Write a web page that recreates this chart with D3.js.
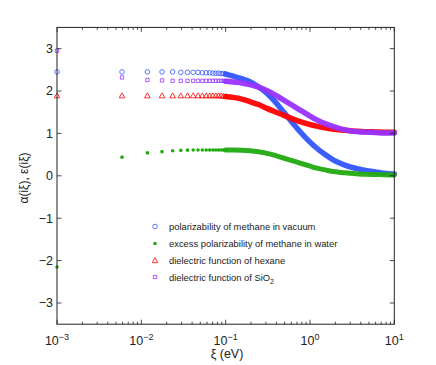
<!DOCTYPE html>
<html><head><meta charset="utf-8">
<script src="https://cdn.jsdelivr.net/npm/d3@7"></script>
<style>body{margin:0;background:#fff}text{font-family:"Liberation Sans",Arial,sans-serif;fill:#222}</style>
</head><body><svg id="c" width="436" height="365"></svg>
<script>
const xi = [0.001,0.0059,0.0118,0.0176,0.0235,0.0294,0.0353,0.0412,0.0470,0.0529,0.0588,0.0647,0.0706,0.0764,0.0823,0.0882,0.0941,0.1,
  0.123,0.155,0.194,0.245,0.308,0.385,0.484,0.61,0.764,0.96,1.205,1.51,1.9,2.39,2.99,3.76,4.72,6.0,7.5,10];
const vacuum = [2.45,2.45,2.45,2.45,2.45,2.44,2.44,2.44,2.44,2.43,2.43,2.43,2.42,2.42,2.42,2.41,2.41,2.40,
  2.35,2.29,2.22,2.10,1.95,1.75,1.51,1.27,1.04,0.83,0.65,0.50,0.37,0.28,0.21,0.16,0.12,0.09,0.06,0.04];
const water = [-2.15,0.44,0.54,0.57,0.59,0.60,0.605,0.61,0.61,0.61,0.61,0.61,0.61,0.61,0.61,0.61,0.61,0.61,
  0.61,0.605,0.59,0.565,0.53,0.48,0.42,0.36,0.30,0.24,0.18,0.14,0.10,0.08,0.06,0.045,0.035,0.03,0.025,0.02];
const hexane = [1.89,1.89,1.89,1.89,1.89,1.89,1.89,1.89,1.89,1.89,1.89,1.89,1.89,1.89,1.89,1.89,1.88,1.87,
  1.85,1.81,1.75,1.68,1.59,1.51,1.43,1.35,1.28,1.22,1.17,1.13,1.10,1.08,1.06,1.05,1.04,1.035,1.03,1.03];
const sio2 = [2.95,2.32,2.26,2.25,2.24,2.24,2.24,2.24,2.24,2.24,2.24,2.24,2.24,2.24,2.24,2.24,2.24,2.23,
  2.21,2.19,2.15,2.09,2.01,1.91,1.79,1.67,1.55,1.43,1.32,1.23,1.16,1.10,1.06,1.04,1.03,1.02,1.01,1.01];
const xTickVals = [1e-3,1e-2,1e-1,1,10];
const xTickExp = ["\u22123","\u22122","\u22121","0","1"];
const yTickVals = [-3,-2,-1,0,1,2,3];
const yTickLabels = ["\u22123","\u22122","\u22121","0","1","2","3"];
const legendLabels = ["polarizability of methane in vacuum","excess polarizability of methane in water","dielectric function of hexane","dielectric function of SiO"];

const L=57,R=394.3,T=27.4,B=324.2;
const svg=d3.select("#c");
const x=d3.scaleLog().domain([1e-3,10]).range([L,R]);
const y=d3.scaleLinear().domain([-3.5,3.5]).range([B,T]);
const dark="#222";

const series=[
  {v:vacuum,col:"#3355ff",mk:"circle",lw:5.5},
  {v:water,col:"#22aa11",mk:"dot",lw:5},
  {v:hexane,col:"#ff0000",mk:"tri",lw:5.5},
  {v:sio2,col:"#9933ff",mk:"sq",lw:5.5}
];
function marker(g,mk,col,cx,cy){
  if(mk==="circle") g.append("circle").attr("cx",cx).attr("cy",cy).attr("r",2.3).attr("fill","none").attr("stroke",col).attr("stroke-width",0.8);
  else if(mk==="dot") g.append("circle").attr("cx",cx).attr("cy",cy).attr("r",1.8).attr("fill",col);
  else if(mk==="tri") g.append("path").attr("transform",`translate(${cx},${cy+0.5})`).attr("d",d3.symbol(d3.symbolTriangle,14)()).attr("fill","none").attr("stroke",col).attr("stroke-width",0.8);
  else g.append("path").attr("transform",`translate(${cx},${cy})`).attr("d",d3.symbol(d3.symbolSquare,11)()).attr("fill","none").attr("stroke",col).attr("stroke-width",0.8);
}
const line=d3.line().x(d=>x(d[0])).y(d=>y(d[1])).curve(d3.curveMonotoneX);
series.forEach(s=>{
  const g=svg.append("g");
  const pts=xi.map((d,i)=>[d,s.v[i]]);
  pts.filter(p=>p[0]<=0.1).forEach(p=>marker(g,s.mk,s.col,x(p[0]),y(p[1])));
  g.append("path").attr("d",line(pts.filter(p=>p[0]>=0.1))).attr("fill","none").attr("stroke",s.col).attr("stroke-width",s.lw).attr("stroke-linecap","round").attr("stroke-opacity",0.95);
});

// axes box
svg.append("rect").attr("x",L).attr("y",T).attr("width",R-L).attr("height",B-T).attr("fill","none").attr("stroke",dark).attr("stroke-width",1);
const ax=svg.append("g").attr("stroke",dark).attr("stroke-width",0.8);
x.ticks().forEach(t=>{
  const major=xTickVals.includes(t);
  const len=major?4.5:2.5;
  ax.append("line").attr("x1",x(t)).attr("x2",x(t)).attr("y1",B).attr("y2",B-len);
  ax.append("line").attr("x1",x(t)).attr("x2",x(t)).attr("y1",T).attr("y2",T+len);
});
yTickVals.forEach(t=>{
  ax.append("line").attr("x1",L).attr("x2",L+4.5).attr("y1",y(t)).attr("y2",y(t));
  ax.append("line").attr("x1",R).attr("x2",R-4.5).attr("y1",y(t)).attr("y2",y(t));
});
xTickVals.forEach((t,i)=>{
  const tx=svg.append("text").attr("x",x(t)).attr("y",345).attr("text-anchor","middle").attr("font-size",12.5);
  tx.append("tspan").text("10");
  tx.append("tspan").attr("dy",-5).attr("font-size",9).text(xTickExp[i]);
});
yTickVals.forEach((t,i)=>{
  svg.append("text").attr("x",53).attr("y",y(t)+4.3).attr("text-anchor","end").attr("font-size",12.5).text(yTickLabels[i]);
});
svg.append("text").attr("x",227).attr("y",358).attr("text-anchor","middle").attr("font-size",12.5).text("\u03be (eV)");
svg.append("text").attr("transform","translate(28,178) rotate(-90)").attr("text-anchor","middle").attr("font-size",12).text("\u03b1(i\u03be), \u03b5(i\u03be)");

// legend
const ly=[226.5,243.5,260.5,277];
series.forEach((s,i)=>{
  const g=svg.append("g");
  marker(g,s.mk,s.col,155,ly[i]);
  const t=g.append("text").attr("x",169).attr("y",ly[i]+3.5).attr("font-size",9.4).text(legendLabels[i]);
  if(i===3) t.append("tspan").attr("dy",3).attr("font-size",7).text("2");
});
</script></body></html>
